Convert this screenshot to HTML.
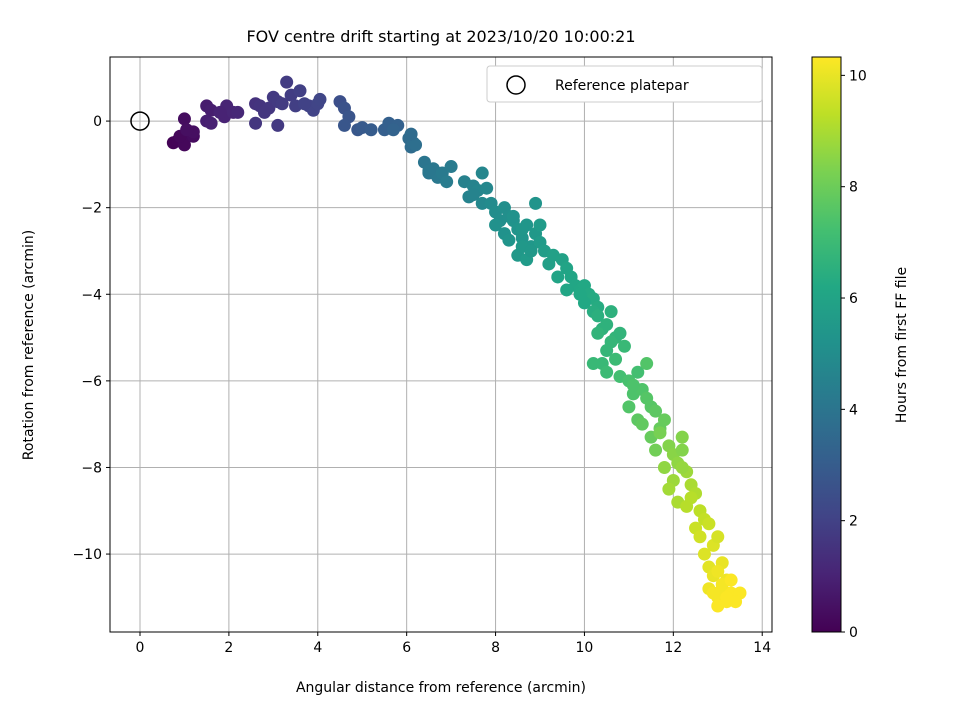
<!DOCTYPE html>
<html><head><meta charset="utf-8"><style>
body{margin:0;background:#fff;font-family:"Liberation Sans","DejaVu Sans",sans-serif}
svg text{font-family:"DejaVu Sans","Liberation Sans",sans-serif;fill:#000}
</style></head><body>
<svg id="chart" width="960" height="720" xmlns="http://www.w3.org/2000/svg">
<rect width="960" height="720" fill="#fff"/>
<text x="441" y="42" text-anchor="middle" font-size="16">FOV centre drift starting at 2023/10/20 10:00:21</text>
<g id="grid"></g>
<g id="pts"></g>
<rect x="110" y="57" width="662" height="575" fill="none" stroke="#000" stroke-width="1"/>
<g id="ticks"></g>
<text x="441" y="692" text-anchor="middle" font-size="14">Angular distance from reference (arcmin)</text>
<text transform="translate(33,345) rotate(-90)" text-anchor="middle" font-size="14">Rotation from reference (arcmin)</text>
<g>
<rect x="487" y="66" width="275" height="36" rx="3" fill="#fff" stroke="#ccc"/>
<circle cx="516" cy="85" r="9" fill="none" stroke="#000" stroke-width="1.5"/>
<text x="555" y="90" font-size="14">Reference platepar</text>
</g>
<defs><linearGradient id="vir" x1="0" y1="1" x2="0" y2="0"></linearGradient></defs>
<rect x="812" y="57" width="29" height="575" fill="url(#vir)" stroke="#000" stroke-width="1"/>
<g id="cbt"></g>
<text transform="translate(906,345) rotate(-90)" text-anchor="middle" font-size="14">Hours from first FF file</text>
</svg>
<script>
const xTicks=[0,2,4,6,8,10,12,14];
const yTicks=[0,-2,-4,-6,-8,-10];
const cTicks=[0,2,4,6,8,10];
const xs=[0.75,0.85,0.95,1.0,1.1,1.2,0.9,1.0,1.2,1.05,
1.5,1.6,1.5,1.6,1.9,1.95,2.1,2.2,1.8,
2.6,2.7,2.6,2.9,3.0,3.1,3.3,3.4,3.6,3.5,3.8,3.9,4.0,4.05,3.2,3.1,2.8,3.7,
4.5,4.6,4.7,4.6,4.9,5.0,5.2,5.5,5.6,5.8,5.7,
6.05,6.1,6.15,6.2,6.1,
6.4,6.5,6.6,6.7,6.8,7.0,6.9,6.5,
7.3,7.4,7.5,7.6,7.7,7.8,7.7,7.5,
7.9,8.0,8.1,8.2,8.3,8.0,8.2,8.4,8.5,8.6,8.3,8.7,8.8,8.9,8.5,8.6,8.9,9.0,8.7,8.4,8.8,9.1,9.0,8.6,
9.2,9.3,9.5,9.4,9.6,9.7,9.8,9.6,9.9,10.0,10.1,10.2,10.3,10.0,9.9,10.2,
10.3,10.4,10.5,10.6,10.3,10.5,10.7,10.4,10.6,10.8,10.2,10.5,10.9,10.7,
10.8,11.0,11.1,11.2,11.0,11.3,11.4,11.2,11.5,11.1,11.3,11.6,11.4,11.7,11.5,11.8,11.6,
11.7,11.9,12.0,11.8,12.1,12.0,12.2,11.9,12.3,12.1,12.4,12.2,12.5,12.3,12.6,12.4,12.7,12.2,12.5,
12.6,12.8,12.7,12.9,12.8,13.0,12.9,13.1,12.8,13.0,13.2,13.1,12.9,13.3,13.0,13.2,13.4,13.1,13.3,13.5,13.0,13.2,13.4];
const ys=[-0.5,-0.45,-0.4,-0.55,-0.3,-0.35,-0.35,0.05,-0.25,-0.2,
0.35,0.25,0.0,-0.05,0.1,0.35,0.2,0.2,0.2,
0.4,0.35,-0.05,0.3,0.55,0.45,0.9,0.6,0.7,0.35,0.35,0.25,0.4,0.5,0.4,-0.1,0.2,0.4,
0.45,0.3,0.1,-0.1,-0.2,-0.15,-0.2,-0.2,-0.05,-0.1,-0.2,
-0.4,-0.6,-0.5,-0.55,-0.3,
-0.95,-1.2,-1.1,-1.3,-1.2,-1.05,-1.4,-1.15,
-1.4,-1.75,-1.5,-1.6,-1.2,-1.55,-1.9,-1.7,
-1.9,-2.1,-2.3,-2.0,-2.2,-2.4,-2.6,-2.3,-2.5,-2.7,-2.75,-2.4,-2.9,-2.6,-3.1,-2.9,-1.9,-2.8,-3.2,-2.2,-3.0,-3.0,-2.4,-2.5,
-3.3,-3.1,-3.2,-3.6,-3.4,-3.6,-3.8,-3.9,-3.9,-3.8,-4.0,-4.1,-4.3,-4.2,-4.0,-4.4,
-4.5,-4.8,-4.7,-4.4,-4.9,-5.3,-5.0,-5.6,-5.1,-4.9,-5.6,-5.8,-5.2,-5.5,
-5.9,-6.0,-6.3,-5.8,-6.6,-6.2,-6.4,-6.9,-6.6,-6.1,-7.0,-6.7,-5.6,-7.1,-7.3,-6.9,-7.6,
-7.2,-7.5,-7.7,-8.0,-7.9,-8.3,-7.6,-8.5,-8.1,-8.8,-8.4,-7.3,-8.6,-8.9,-9.0,-8.7,-9.2,-8.0,-9.4,
-9.6,-9.3,-10.0,-9.8,-10.3,-9.6,-10.5,-10.2,-10.8,-11.0,-10.6,-10.8,-10.9,-10.9,-11.2,-11.1,-11.0,-10.7,-10.6,-10.9,-10.4,-11.0,-11.1];
const ts=[0.05,0.1,0.15,0.2,0.25,0.3,0.2,0.35,0.4,0.4,
0.8,0.85,0.9,0.95,1.0,1.05,1.1,1.15,1.0,
1.5,1.55,1.6,1.65,1.7,1.75,1.8,1.85,1.95,1.9,2.0,2.05,2.1,2.15,1.8,1.7,1.6,2.0,
2.5,2.6,2.7,2.75,2.8,2.9,3.0,3.1,3.15,3.2,3.25,
3.6,3.65,3.7,3.75,3.6,
4.0,4.05,4.1,4.15,4.2,4.25,4.3,4.1,
4.5,4.55,4.6,4.65,4.7,4.75,4.8,4.6,
4.9,5.0,5.05,5.1,5.1,5.15,5.2,5.25,5.3,5.35,5.3,5.4,5.45,5.5,5.5,5.5,5.3,5.6,5.6,5.2,5.5,5.7,5.6,5.4,
5.8,5.85,5.9,6.0,6.0,6.05,6.1,6.1,6.15,6.2,6.25,6.3,6.35,6.2,6.2,6.4,
6.5,6.6,6.6,6.55,6.7,6.8,6.75,6.9,6.8,6.7,6.9,7.0,6.9,7.0,
7.2,7.3,7.4,7.2,7.5,7.45,7.55,7.7,7.6,7.4,7.8,7.7,7.5,7.9,7.9,7.9,8.1,
8.2,8.4,8.5,8.6,8.6,8.8,8.4,8.9,8.8,9.0,9.0,8.4,9.1,9.2,9.3,9.2,9.4,8.7,9.5,
9.6,9.5,9.8,9.8,9.9,9.7,10.0,10.0,10.1,10.2,10.1,10.2,10.2,10.3,10.3,10.3,10.3,10.2,10.3,10.3,10.1,10.3,10.3];
const X0=110,X1=772,xmin=-0.675,xmax=14.22,Y0=57,Y1=632,ymax=1.48,ymin=-11.8;
const sx=v=>X0+(v-xmin)/(xmax-xmin)*(X1-X0);
const sy=v=>Y0+(ymax-v)/(ymax-ymin)*(Y1-Y0);
const cmin=0,cmax=10.33;const sc=v=>Y1-(v-cmin)/(cmax-cmin)*(Y1-Y0);
const vir=["#440154","#482475","#414487","#355f8d","#2a788e","#21918c","#22a884","#44bf70","#7ad151","#bddf26","#fde725"];
function hex(h){return [1,3,5].map(i=>parseInt(h.substr(i,2),16));}
function cmap(t){t=Math.max(0,Math.min(1,t))*(vir.length-1);const i=Math.min(Math.floor(t),vir.length-2),f=t-i;const a=hex(vir[i]),b=hex(vir[i+1]);return `rgb(${a.map((v,k)=>Math.round(v+(b[k]-v)*f)).join(',')})`;}
const NS="http://www.w3.org/2000/svg";
function mk(tag,attrs,parent,text){const e=document.createElementNS(NS,tag);for(const k in attrs)e.setAttribute(k,attrs[k]);if(text!==undefined)e.textContent=text;parent.appendChild(e);return e;}
const grid=document.getElementById('grid'),ticks=document.getElementById('ticks'),pts=document.getElementById('pts'),cbt=document.getElementById('cbt');
const grad=document.getElementById('vir');
vir.forEach((c,i)=>{mk('stop',{offset:(i/(vir.length-1)),'stop-color':c},grad);});
xTicks.forEach(v=>{const x=sx(v);
const g=mk('line',{x1:x,x2:x,y1:Y0,y2:Y1,stroke:'#b0b0b0','stroke-width':1},grid);


mk('line',{x1:x,x2:x,y1:Y1,y2:Y1+4,stroke:'#000'},ticks);
const t=mk('text',{x:x,y:Y1+20,'text-anchor':'middle','font-size':14},ticks,String(v));

});
yTicks.forEach(v=>{const y=sy(v);
const g=mk('line',{x1:X0,x2:X1,y1:y,y2:y,stroke:'#b0b0b0','stroke-width':1},grid);


mk('line',{x1:X0-4,x2:X0,y1:y,y2:y,stroke:'#000'},ticks);
const t=mk('text',{x:X0-8,y:y+5,'text-anchor':'end','font-size':14},ticks,v<0?'\u2212'+(-v):String(v));

});
cTicks.forEach(v=>{const y=sc(v);
mk('line',{x1:841,x2:845,y1:y,y2:y,stroke:'#000'},cbt);
const t=mk('text',{x:849,y:y+5,'font-size':14},cbt,String(v));

});
xs.forEach((v,i)=>{const c=mk('circle',{cx:sx(v),cy:sy(ys[i]),r:6.5,fill:cmap((ts[i]-cmin)/(cmax-cmin))},pts);

});
const ref=mk('circle',{cx:sx(0),cy:sy(0),r:9,fill:'none',stroke:'#000','stroke-width':1.5},pts);


</script>
</body></html>
